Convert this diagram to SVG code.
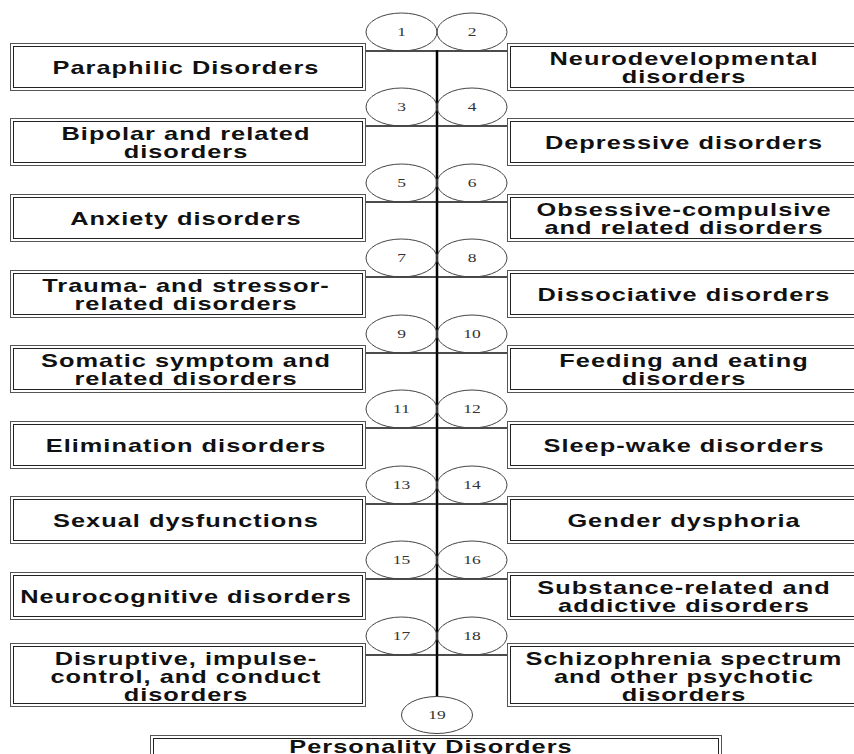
<svg xmlns="http://www.w3.org/2000/svg" width="854" height="754" viewBox="0 0 854 754">
<style>
.bo{fill:#fff;stroke:#555;stroke-width:1}
.bi{fill:none;stroke:#222;stroke-width:1}
.t{font-family:"Liberation Sans",Arial,sans-serif;font-weight:bold;font-size:17.5px;fill:#111;text-anchor:middle;letter-spacing:0.7px}
.el{fill:none;stroke:#444;stroke-width:1}
.n{font-family:"Liberation Serif","Times New Roman",serif;font-size:12.5px;fill:#333;text-anchor:middle}
.h{stroke:#111;stroke-width:1.5;fill:none}
.v{stroke:#000;stroke-width:2.5;fill:none}
</style>
<rect width="854" height="754" fill="#fff"/>
<g id="connectors">
<line class="v" x1="437" y1="50" x2="437" y2="696"/>
<line class="h" x1="366" y1="51" x2="507" y2="51"/>
<line class="h" x1="366" y1="126" x2="507" y2="126"/>
<line class="h" x1="366" y1="202" x2="507" y2="202"/>
<line class="h" x1="366" y1="277" x2="507" y2="277"/>
<line class="h" x1="366" y1="353" x2="507" y2="353"/>
<line class="h" x1="366" y1="428" x2="507" y2="428"/>
<line class="h" x1="366" y1="504" x2="507" y2="504"/>
<line class="h" x1="366" y1="579" x2="507" y2="579"/>
<line class="h" x1="366" y1="655" x2="507" y2="655"/>
</g>
<g id="n1"><rect class="bo" x="10.5" y="43.5" width="355" height="47"/><rect class="bi" x="13.5" y="46.5" width="349" height="41"/><text class="t" transform="translate(186,74) scale(1.45,1)">Paraphilic Disorders</text><ellipse class="el" cx="401.5" cy="32" rx="35.5" ry="19"/><text class="n" transform="translate(401.5,36) scale(1.4,1)">1</text></g>
<g id="n2"><rect class="bo" x="507.5" y="43.5" width="355" height="47"/><rect class="bi" x="510.5" y="46.5" width="349" height="41"/><text class="t" transform="translate(684,64.5) scale(1.45,1)"><tspan x="0">Neurodevelopmental</tspan><tspan x="0" dy="19">disorders</tspan></text><ellipse class="el" cx="472" cy="32" rx="35" ry="19"/><text class="n" transform="translate(472,36) scale(1.4,1)">2</text></g>
<g id="n3"><rect class="bo" x="10.5" y="118.5" width="355" height="47"/><rect class="bi" x="13.5" y="121.5" width="349" height="41"/><text class="t" transform="translate(186,139.5) scale(1.45,1)"><tspan x="0">Bipolar and related</tspan><tspan x="0" dy="19">disorders</tspan></text><ellipse class="el" cx="401.5" cy="107" rx="35.5" ry="19"/><text class="n" transform="translate(401.5,111) scale(1.4,1)">3</text></g>
<g id="n4"><rect class="bo" x="507.5" y="118.5" width="355" height="47"/><rect class="bi" x="510.5" y="121.5" width="349" height="41"/><text class="t" transform="translate(684,149) scale(1.45,1)">Depressive disorders</text><ellipse class="el" cx="472" cy="107" rx="35" ry="19"/><text class="n" transform="translate(472,111) scale(1.4,1)">4</text></g>
<g id="n5"><rect class="bo" x="10.5" y="194.5" width="355" height="47"/><rect class="bi" x="13.5" y="197.5" width="349" height="41"/><text class="t" transform="translate(186,225) scale(1.45,1)">Anxiety disorders</text><ellipse class="el" cx="401.5" cy="183" rx="35.5" ry="19"/><text class="n" transform="translate(401.5,187) scale(1.4,1)">5</text></g>
<g id="n6"><rect class="bo" x="507.5" y="194.5" width="355" height="47"/><rect class="bi" x="510.5" y="197.5" width="349" height="41"/><text class="t" transform="translate(684,215.5) scale(1.45,1)"><tspan x="0">Obsessive-compulsive</tspan><tspan x="0" dy="19">and related disorders</tspan></text><ellipse class="el" cx="472" cy="183" rx="35" ry="19"/><text class="n" transform="translate(472,187) scale(1.4,1)">6</text></g>
<g id="n7"><rect class="bo" x="10.5" y="270.5" width="355" height="47"/><rect class="bi" x="13.5" y="273.5" width="349" height="41"/><text class="t" transform="translate(186,291.5) scale(1.45,1)"><tspan x="0">Trauma- and stressor-</tspan><tspan x="0" dy="19">related disorders</tspan></text><ellipse class="el" cx="401.5" cy="258" rx="35.5" ry="19"/><text class="n" transform="translate(401.5,262) scale(1.4,1)">7</text></g>
<g id="n8"><rect class="bo" x="507.5" y="270.5" width="355" height="47"/><rect class="bi" x="510.5" y="273.5" width="349" height="41"/><text class="t" transform="translate(684,301) scale(1.45,1)">Dissociative disorders</text><ellipse class="el" cx="472" cy="258" rx="35" ry="19"/><text class="n" transform="translate(472,262) scale(1.4,1)">8</text></g>
<g id="n9"><rect class="bo" x="10.5" y="345.5" width="355" height="47"/><rect class="bi" x="13.5" y="348.5" width="349" height="41"/><text class="t" transform="translate(186,366.5) scale(1.45,1)"><tspan x="0">Somatic symptom and</tspan><tspan x="0" dy="19">related disorders</tspan></text><ellipse class="el" cx="401.5" cy="334" rx="35.5" ry="19"/><text class="n" transform="translate(401.5,338) scale(1.4,1)">9</text></g>
<g id="n10"><rect class="bo" x="507.5" y="345.5" width="355" height="47"/><rect class="bi" x="510.5" y="348.5" width="349" height="41"/><text class="t" transform="translate(684,366.5) scale(1.45,1)"><tspan x="0">Feeding and eating</tspan><tspan x="0" dy="19">disorders</tspan></text><ellipse class="el" cx="472" cy="334" rx="35" ry="19"/><text class="n" transform="translate(472,338) scale(1.4,1)">10</text></g>
<g id="n11"><rect class="bo" x="10.5" y="421.5" width="355" height="47"/><rect class="bi" x="13.5" y="424.5" width="349" height="41"/><text class="t" transform="translate(186,452) scale(1.45,1)">Elimination disorders</text><ellipse class="el" cx="401.5" cy="409" rx="35.5" ry="19"/><text class="n" transform="translate(401.5,413) scale(1.4,1)">11</text></g>
<g id="n12"><rect class="bo" x="507.5" y="421.5" width="355" height="47"/><rect class="bi" x="510.5" y="424.5" width="349" height="41"/><text class="t" transform="translate(684,452) scale(1.45,1)">Sleep-wake disorders</text><ellipse class="el" cx="472" cy="409" rx="35" ry="19"/><text class="n" transform="translate(472,413) scale(1.4,1)">12</text></g>
<g id="n13"><rect class="bo" x="10.5" y="496.5" width="355" height="47"/><rect class="bi" x="13.5" y="499.5" width="349" height="41"/><text class="t" transform="translate(186,527) scale(1.45,1)">Sexual dysfunctions</text><ellipse class="el" cx="401.5" cy="485" rx="35.5" ry="19"/><text class="n" transform="translate(401.5,489) scale(1.4,1)">13</text></g>
<g id="n14"><rect class="bo" x="507.5" y="496.5" width="355" height="47"/><rect class="bi" x="510.5" y="499.5" width="349" height="41"/><text class="t" transform="translate(684,527) scale(1.45,1)">Gender dysphoria</text><ellipse class="el" cx="472" cy="485" rx="35" ry="19"/><text class="n" transform="translate(472,489) scale(1.4,1)">14</text></g>
<g id="n15"><rect class="bo" x="10.5" y="572.5" width="355" height="47"/><rect class="bi" x="13.5" y="575.5" width="349" height="41"/><text class="t" transform="translate(186,603) scale(1.45,1)">Neurocognitive disorders</text><ellipse class="el" cx="401.5" cy="560" rx="35.5" ry="19"/><text class="n" transform="translate(401.5,564) scale(1.4,1)">15</text></g>
<g id="n16"><rect class="bo" x="507.5" y="572.5" width="355" height="47"/><rect class="bi" x="510.5" y="575.5" width="349" height="41"/><text class="t" transform="translate(684,593.5) scale(1.45,1)"><tspan x="0">Substance-related and</tspan><tspan x="0" dy="19">addictive disorders</tspan></text><ellipse class="el" cx="472" cy="560" rx="35" ry="19"/><text class="n" transform="translate(472,564) scale(1.4,1)">16</text></g>
<g id="n17"><rect class="bo" x="10.5" y="643.5" width="355" height="63"/><rect class="bi" x="13.5" y="646.5" width="349" height="57"/><text class="t" transform="translate(186,664.5) scale(1.45,1)"><tspan x="0">Disruptive, impulse-</tspan><tspan x="0" dy="18.5">control, and conduct</tspan><tspan x="0" dy="18.5">disorders</tspan></text><ellipse class="el" cx="401.5" cy="636" rx="35.5" ry="19"/><text class="n" transform="translate(401.5,640) scale(1.4,1)">17</text></g>
<g id="n18"><rect class="bo" x="507.5" y="643.5" width="355" height="63"/><rect class="bi" x="510.5" y="646.5" width="349" height="57"/><text class="t" transform="translate(684,664.5) scale(1.45,1)"><tspan x="0">Schizophrenia spectrum</tspan><tspan x="0" dy="18.5">and other psychotic</tspan><tspan x="0" dy="18.5">disorders</tspan></text><ellipse class="el" cx="472" cy="636" rx="35" ry="19"/><text class="n" transform="translate(472,640) scale(1.4,1)">18</text></g>
<g id="n19"><rect class="bo" x="150.5" y="735.5" width="571" height="40"/><rect class="bi" x="153.5" y="738.5" width="565" height="34"/><text class="t" transform="translate(431,753) scale(1.45,1)">Personality Disorders</text><ellipse class="el" cx="437" cy="715" rx="35.5" ry="18.5"/><text class="n" transform="translate(437,719) scale(1.4,1)">19</text></g>
</svg>
